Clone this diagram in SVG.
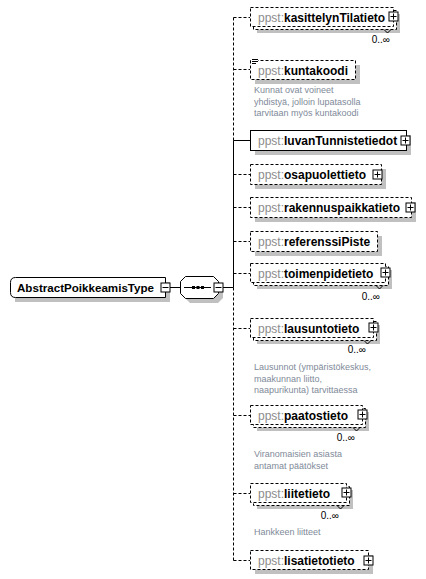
<svg xmlns="http://www.w3.org/2000/svg" width="426" height="579" viewBox="0 0 426 579">
<style>
.bx{fill:#fff;stroke:#000;stroke-width:1}
.dash{stroke-dasharray:3 2}
.sh{fill:#c0c0c0}
.t{font-family:"Liberation Sans",Arial,sans-serif;font-size:12px;fill:#000}
.mt{font-size:11.6px}
.ns{fill:#8c8c8c;font-weight:normal}
.nm{font-weight:bold}
.occ{font-family:"Liberation Sans",Arial,sans-serif;font-size:10px;fill:#000;text-anchor:end}
.ann{font-family:"Liberation Sans",Arial,sans-serif;font-size:9px;fill:#808a99}
.ln{stroke:#000;stroke-width:1;fill:none}
.pm{fill:#fff;stroke:#000;stroke-width:1}
</style>
<defs>
<g id="plus"><rect class="pm" x="-4.5" y="-4.5" width="9" height="9"/><path class="ln" d="M-3 0H3M0 -3V3"/></g>
<g id="minus"><rect class="pm" x="-4.5" y="-4.5" width="9" height="9"/><path class="ln" d="M-3 0H3"/></g>
</defs>

<g id="connectors">
<path class="ln" d="M170 287.5H180M222.5 287.5H233.5"/>
<path class="ln dash" d="M233.5 17.5V140.5"/>
<path class="ln" d="M233.5 140.5V287.5"/>
<path class="ln dash" d="M233.5 287.5V560.5"/>
<path class="ln dash" d="M233.5 17.5H250M233.5 69.5H250M233.5 174.5H250M233.5 207.5H250M233.5 241.5H250M233.5 273.5H250M233.5 328.5H250M233.5 415.5H250M233.5 493.5H250M233.5 560.5H250"/>
<path class="ln" d="M233.5 140.5H250"/>
</g>

<g id="AbstractPoikkeamisType">
<path class="sh" d="M20 282H170V302H15Q15 302 15 297V287Q15 282 20 282Z"/>
<path class="bx" d="M15.5 277.5H165.5V297.5H15.5Q10.5 297.5 10.5 292.5V282.5Q10.5 277.5 15.5 277.5Z"/>
<text class="t nm mt" x="17" y="291.5">AbstractPoikkeamisType</text>
<use href="#minus" x="165.5" y="287.5"/>
</g>

<g id="sequence">
<polygon class="sh" points="190,281 218,281 223,286 223,298 218,303 190,303 185,298 185,286"/>
<polygon class="bx" points="185.5,276.5 213.5,276.5 218.5,281.5 218.5,293.5 213.5,298.5 185.5,298.5 180.5,293.5 180.5,281.5"/>
<path class="ln" d="M184 287.5H211"/>
<rect x="192" y="286" width="3" height="3" fill="#000"/>
<rect x="196.5" y="286" width="3" height="3" fill="#000"/>
<rect x="201" y="286" width="3" height="3" fill="#000"/>
<use href="#minus" x="218.5" y="287.5"/>
</g>

<g id="kasittelynTilatieto">
<rect class="sh" x="257" y="14" width="143" height="19"/>
<rect class="bx dash" x="253.5" y="10.5" width="143" height="19"/>
<rect class="bx dash" x="250.5" y="7.5" width="143" height="19"/>
<path class="ln" d="M384 29.5L387.5 33L391 29.5"/>
<text class="t" x="258" y="21.5"><tspan class="ns">ppst:</tspan><tspan class="nm">kasittelynTilatieto</tspan></text>
<use href="#plus" x="393.5" y="16.5"/>
<text class="occ" x="390" y="43">0..∞</text>
</g>

<g id="kuntakoodi">
<rect class="sh" x="255" y="65" width="105" height="19"/>
<rect class="bx dash" x="250.5" y="60.5" width="105" height="19"/>
<rect x="251" y="58" width="7" height="7" fill="#fff"/>
<path class="ln" d="M252 59.5H258M252 61.5H258M252 63.5H256"/>
<text class="t" x="258" y="74.5"><tspan class="ns">ppst:</tspan><tspan class="nm">kuntakoodi</tspan></text>
<text class="ann" x="254" y="93">Kunnat ovat voineet</text>
<text class="ann" x="254" y="104.5">yhdistyä, jolloin lupatasolla</text>
<text class="ann" x="254" y="116">tarvitaan myös kuntakoodi</text>
</g>

<g id="luvanTunnistetiedot">
<rect class="sh" x="255" y="135" width="156" height="20"/>
<rect class="bx" x="250.5" y="130.5" width="156" height="20"/>
<text class="t" x="258" y="145"><tspan class="ns">ppst:</tspan><tspan class="nm">luvanTunnistetiedot</tspan></text>
<use href="#plus" x="405.5" y="140.5"/>
</g>

<g id="osapuolettieto">
<rect class="sh" x="255" y="169" width="131" height="20"/>
<rect class="bx dash" x="250.5" y="164.5" width="131" height="20"/>
<text class="t" x="258" y="179"><tspan class="ns">ppst:</tspan><tspan class="nm">osapuolettieto</tspan></text>
<use href="#plus" x="377.5" y="174.5"/>
</g>

<g id="rakennuspaikkatieto">
<rect class="sh" x="255" y="202" width="161" height="20"/>
<rect class="bx dash" x="250.5" y="197.5" width="161" height="20"/>
<text class="t" x="258" y="212"><tspan class="ns">ppst:</tspan><tspan class="nm">rakennuspaikkatieto</tspan></text>
<use href="#plus" x="410.5" y="207.5"/>
</g>

<g id="referenssiPiste">
<rect class="sh" x="255" y="236" width="127" height="20"/>
<rect class="bx dash" x="250.5" y="231.5" width="127" height="20"/>
<text class="t" x="258" y="246"><tspan class="ns">ppst:</tspan><tspan class="nm">referenssiPiste</tspan></text>
</g>

<g id="toimenpidetieto">
<rect class="sh" x="257" y="270" width="135" height="19"/>
<rect class="bx dash" x="253.5" y="266.5" width="135" height="19"/>
<rect class="bx dash" x="250.5" y="263.5" width="135" height="19"/>
<path class="ln" d="M376 285.5L379.5 289L383 285.5"/>
<text class="t" x="258" y="277.5"><tspan class="ns">ppst:</tspan><tspan class="nm">toimenpidetieto</tspan></text>
<use href="#plus" x="385.5" y="272.5"/>
<text class="occ" x="380" y="300">0..∞</text>
</g>

<g id="lausuntotieto">
<rect class="sh" x="257" y="325" width="123" height="19"/>
<rect class="bx dash" x="253.5" y="321.5" width="123" height="19"/>
<rect class="bx dash" x="250.5" y="318.5" width="123" height="19"/>
<path class="ln" d="M364 340.5L367.5 344L371 340.5"/>
<text class="t" x="258" y="332.5"><tspan class="ns">ppst:</tspan><tspan class="nm">lausuntotieto</tspan></text>
<use href="#plus" x="373.5" y="327.5"/>
<text class="occ" x="366" y="353">0..∞</text>
<text class="ann" x="254" y="370">Lausunnot (ympäristökeskus,</text>
<text class="ann" x="254" y="381.5">maakunnan liitto,</text>
<text class="ann" x="254" y="393">naapurikunta) tarvittaessa</text>
</g>

<g id="paatostieto">
<rect class="sh" x="257" y="412" width="112" height="19"/>
<rect class="bx dash" x="253.5" y="408.5" width="112" height="19"/>
<rect class="bx dash" x="250.5" y="405.5" width="112" height="19"/>
<path class="ln" d="M353 427.5L356.5 431L360 427.5"/>
<text class="t" x="258" y="419.5"><tspan class="ns">ppst:</tspan><tspan class="nm">paatostieto</tspan></text>
<use href="#plus" x="362.5" y="414.5"/>
<text class="occ" x="355" y="441">0..∞</text>
<text class="ann" x="254" y="457">Viranomaisien asiasta</text>
<text class="ann" x="254" y="468.5">antamat päätökset</text>
</g>

<g id="liitetieto">
<rect class="sh" x="257" y="490" width="96" height="19"/>
<rect class="bx dash" x="253.5" y="486.5" width="96" height="19"/>
<rect class="bx dash" x="250.5" y="483.5" width="96" height="19"/>
<path class="ln" d="M337 505.5L340.5 509L344 505.5"/>
<text class="t" x="258" y="497.5"><tspan class="ns">ppst:</tspan><tspan class="nm">liitetieto</tspan></text>
<use href="#plus" x="346.5" y="492.5"/>
<text class="occ" x="339" y="519">0..∞</text>
<text class="ann" x="254" y="535">Hankkeen liitteet</text>
</g>

<g id="lisatietotieto">
<rect class="sh" x="255" y="555" width="118" height="19"/>
<rect class="bx dash" x="250.5" y="550.5" width="118" height="19"/>
<text class="t" x="258" y="564.5"><tspan class="ns">ppst:</tspan><tspan class="nm">lisatietotieto</tspan></text>
<use href="#plus" x="368.5" y="560.5"/>
</g>
</svg>
